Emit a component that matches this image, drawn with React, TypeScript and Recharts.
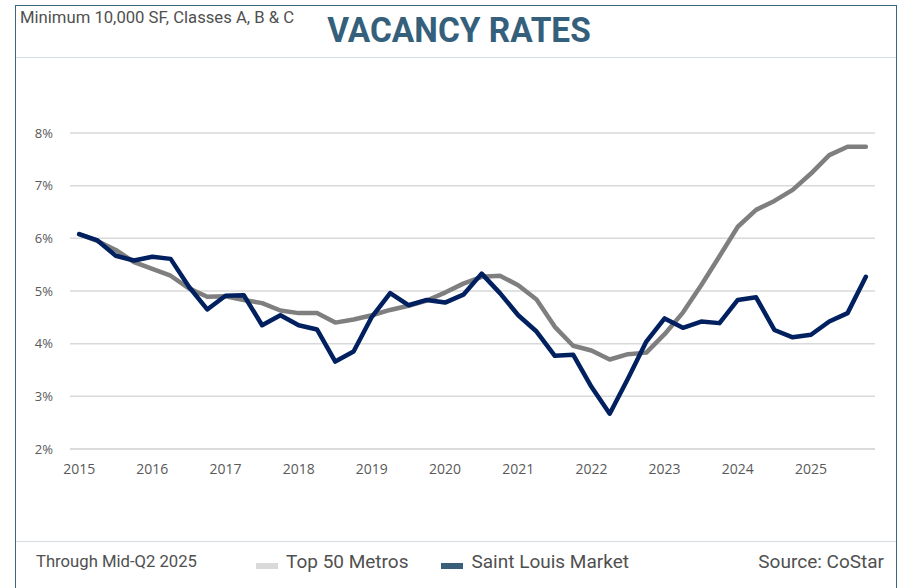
import { CartesianGrid, Legend, Line, LineChart, XAxis, YAxis } from "recharts";

// quarterly vacancy, 2015 Q1 .. 2025 Q4
const years = ["2015", "2016", "2017", "2018", "2019", "2020", "2021", "2022", "2023", "2024", "2025"];

const top50Metros = [
  6.08, 5.95, 5.78, 5.55, 5.42, 5.29, 5.05, 4.89, 4.9, 4.83, 4.77,
  4.63, 4.58, 4.58, 4.4, 4.46, 4.54, 4.64, 4.72, 4.82, 4.97, 5.14,
  5.27, 5.29, 5.11, 4.84, 4.32, 3.96, 3.87, 3.7, 3.8, 3.83, 4.18,
  4.59, 5.11, 5.66, 6.22, 6.54, 6.71, 6.92, 7.23, 7.58, 7.74, 7.74,
];

const saintLouis = [
  6.08, 5.96, 5.67, 5.58, 5.65, 5.61, 5.08, 4.65, 4.91, 4.92, 4.35,
  4.54, 4.35, 4.27, 3.66, 3.85, 4.51, 4.96, 4.73, 4.83, 4.78, 4.93,
  5.33, 4.96, 4.54, 4.23, 3.77, 3.79, 3.18, 2.67, 3.34, 4.04, 4.48,
  4.3, 4.42, 4.39, 4.83, 4.88, 4.26, 4.12, 4.17, 4.42, 4.58, 5.27,
];

const yTicks = [2, 3, 4, 5, 6, 7, 8];

const seriesNames = ["Top 50 Metros", "Saint Louis Market"];
const lineColors = ["#7f7f7f", "#002060"];
const legendColors = ["#d9d9d9", "#3a6079"];

const data = top50Metros.map((v, i) => ({ i, top50: v, stl: saintLouis[i] }));
const boundaryTicks = data.map((d) => d.i - 0.5).concat([data.length - 0.5]);
const yearTicks = years.map((_, k) => k * 4);
const xDomain = [-0.5, data.length - 0.5];

const textGray = "#505050";

function FooterLegend() {
  return (
    <div style={{ display: "flex", alignItems: "center", whiteSpace: "nowrap" }}>
      {seriesNames.map((name, k) => (
        <div key={name} style={{ display: "flex", alignItems: "center", marginRight: k === 0 ? 33 : 0 }}>
          <span style={{ width: 22, height: 6, background: legendColors[k], marginRight: 8, marginTop: 9 }} />
          <span style={{ fontFamily: "Roboto", fontSize: 19, color: textGray }}>{name}</span>
        </div>
      ))}
    </div>
  );
}

export default function App() {
  return (
    <div style={{ position: "absolute", left: 0, top: 0, width: 905, height: 588, background: "#fff", overflow: "hidden" }}>
      {/* frame */}
      <div style={{ position: "absolute", left: 15, top: 5, width: 882, height: 600, borderLeft: "1.5px solid #3d6781", borderRight: "1.5px solid #3d6781", borderTop: "1.5px solid #3d6781", boxSizing: "border-box" }} />
      <div style={{ position: "absolute", left: 16, top: 57, width: 880, height: 1, background: "#d6dde2" }} />
      <div style={{ position: "absolute", left: 16, top: 541, width: 880, height: 1, background: "#d6dde2" }} />

      <div style={{ position: "absolute", left: 20, top: 7, fontFamily: "Roboto", fontSize: 17, color: textGray, transform: "scaleX(0.98)", transformOrigin: "left center", whiteSpace: "nowrap" }}>
        Minimum 10,000 SF, Classes A, B &amp; C
      </div>
      <div style={{ position: "absolute", left: 0, width: 905, top: 10, textAlign: "center" }}>
        <span style={{ fontFamily: "Roboto", fontWeight: 700, fontSize: 35, color: "#35607c", display: "inline-block", transform: "scaleX(0.955)", marginLeft: 12 }}>
          VACANCY RATES
        </span>
      </div>

      <div style={{ position: "absolute", left: 36, top: 551, fontFamily: "Roboto", fontSize: 17, color: textGray, transform: "scaleX(0.98)", transformOrigin: "left center", whiteSpace: "nowrap" }}>
        Through Mid-Q2 2025
      </div>
      <div style={{ position: "absolute", right: 21, top: 550, fontFamily: "Roboto", fontSize: 19, color: textGray, whiteSpace: "nowrap" }}>
        Source: CoStar
      </div>

      <div style={{ position: "absolute", left: 0, top: 0 }}>
        <LineChart width={905} height={588} data={data} margin={{ top: 133, right: 30, left: 10, bottom: 81 }}>
          <CartesianGrid vertical={false} stroke="#d9d9d9" strokeWidth={1.5} />
          <YAxis
            domain={[2, 8]}
            ticks={yTicks}
            width={60}
            axisLine={false}
            tickLine={false}
            tickSize={0}
            tickMargin={17}
            tickFormatter={(v) => `${v}%`}
            tick={{ fontFamily: "Open Sans", fontSize: 13, fill: "#595959" }}
          />
          <XAxis
            xAxisId="b"
            type="number"
            dataKey="i"
            domain={xDomain}
            ticks={boundaryTicks}
            interval={0}
            height={5}
            tick={false}
            tickSize={5}
            axisLine={{ stroke: "#d9d9d9", strokeWidth: 1.5 }}
            tickLine={{ stroke: "#d9d9d9", strokeWidth: 1.5 }}
          />
          <XAxis
            xAxisId="l"
            type="number"
            dataKey="i"
            domain={xDomain}
            ticks={yearTicks}
            interval={0}
            height={30}
            axisLine={false}
            tickLine={false}
            tickSize={6}
            tickMargin={4}
            tickFormatter={(v) => years[v / 4]}
            tick={{ fontFamily: "Open Sans", fontSize: 14, fill: "#595959" }}
          />
          <Line
            xAxisId="b"
            dataKey="top50"
            name={seriesNames[0]}
            stroke={lineColors[0]}
            strokeWidth={4.5}
            dot={false}
            strokeLinejoin="round"
            strokeLinecap="round"
            isAnimationActive={false}
          />
          <Line
            xAxisId="b"
            dataKey="stl"
            name={seriesNames[1]}
            stroke={lineColors[1]}
            strokeWidth={4.5}
            dot={false}
            strokeLinejoin="round"
            strokeLinecap="round"
            isAnimationActive={false}
          />
          <Legend
            content={() => <FooterLegend />}
            wrapperStyle={{ position: "absolute", left: 256, top: 550, width: "auto" }}
          />
        </LineChart>
      </div>
    </div>
  );
}
